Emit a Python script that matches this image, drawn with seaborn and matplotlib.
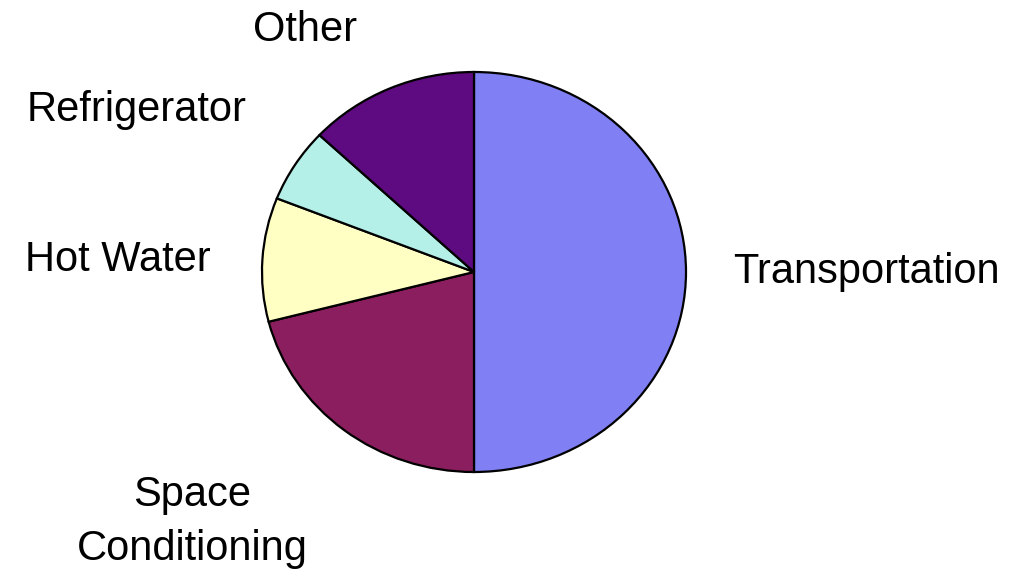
import matplotlib
matplotlib.use("Agg")
import matplotlib.pyplot as plt
import seaborn as sns

sns.set_style("white")
plt.rcParams['font.family'] = ['Liberation Sans', 'DejaVu Sans']

# data (percent of total)
categories = ["Transportation", "Space\nConditioning", "Hot Water", "Refrigerator", "Other"]
shares = [50, 21, 10, 6, 13]
colors = ["#8080F4", "#8B1E5E", "#FFFFC4", "#B4F0E8", "#5E0A80"]

# where each label sits, in figure pixels (x from left, y from top)
label_xy = [(866, 272), (192, 522), (118, 260), (137, 110), (305, 30)]

fig = plt.figure(figsize=(10.2, 5.78), dpi=100)
W, H = 1020, 578
cx, cy, rx, ry = 474, 272, 212, 200
ax = fig.add_axes([(cx - rx) / W, (H - cy - ry) / H, 2 * rx / W, 2 * ry / H])

ax.pie(shares, colors=colors, startangle=90, counterclock=False,
       wedgeprops=dict(edgecolor="black", linewidth=1.6))
ax.set_aspect("auto")
ax.set_xlim(-1, 1)
ax.set_ylim(-1, 1)
ax.axis("off")

for name, (x, y) in zip(categories, label_xy):
    fig.text(x / W, 1 - y / H, name, ha="center", va="center",
             fontsize=30, color="black", linespacing=1.45)

fig.savefig("out.png", dpi=100, facecolor="white")
